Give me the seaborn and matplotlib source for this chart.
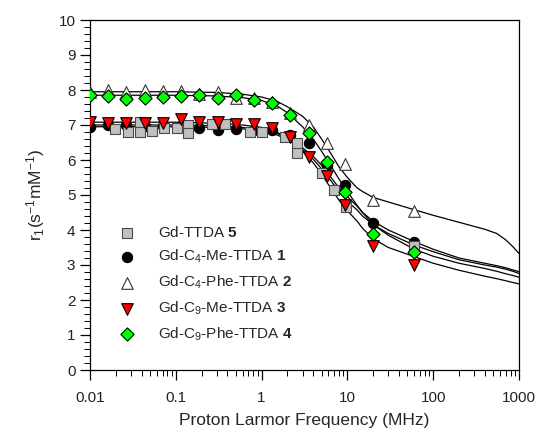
import numpy as np
import pandas as pd
import matplotlib
matplotlib.use("Agg")
import matplotlib.pyplot as plt
import seaborn as sns
from matplotlib.ticker import MultipleLocator, LogLocator, NullFormatter, FixedLocator, FixedFormatter

# ---------------- data ----------------
freq_main = [0.01, 0.0163, 0.0266, 0.0434, 0.0707, 0.115, 0.188, 0.307, 0.5, 0.815,
             1.33, 2.17, 3.54, 5.77, 9.4, 20, 60]
r_c4me = [6.95, 7.00, 7.00, 6.98, 6.98, 6.97, 6.92, 6.86, 6.90, 6.86,
          6.86, 6.72, 6.48, 5.85, 5.29, 4.19, 3.67]
r_c4phe = [7.95, 8.00, 7.94, 8.00, 7.97, 7.98, 7.89, 7.93, 7.77, 7.77,
           7.65, 7.35, 7.00, 6.50, 5.89, 4.86, 4.55]
r_c9me = [7.09, 7.05, 7.07, 7.07, 7.07, 7.17, 7.10, 7.09, 7.02, 7.02,
          6.92, 6.65, 6.10, 5.54, 4.71, 3.54, 3.00]
r_c9phe = [7.86, 7.84, 7.74, 7.76, 7.79, 7.84, 7.86, 7.77, 7.86, 7.71,
           7.62, 7.28, 6.77, 5.93, 5.08, 3.90, 3.36]

freq_ttda = [0.0195, 0.028, 0.038, 0.038, 0.0526, 0.072, 0.103, 0.14, 0.14, 0.262,
             0.372, 0.725, 1.0, 1.85, 2.62, 2.62, 5.08, 7.06, 9.7, 60]
r_ttda = [6.88, 6.80, 7.09, 6.79, 6.83, 6.92, 6.92, 7.00, 6.76, 7.02,
          7.03, 6.80, 6.80, 6.67, 6.50, 6.19, 5.62, 5.14, 4.65, 3.55]

# fitted curves
freq_fit = [0.01, 0.03, 0.1, 0.3, 0.6, 1, 1.5, 2, 3, 4, 5, 6, 8, 10, 13, 15, 20, 30,
            60, 100, 200, 400, 550, 700, 850, 1000]
fit_c4phe = [7.95, 7.95, 7.95, 7.93, 7.88, 7.80, 7.68, 7.52, 7.25, 6.95, 6.60, 6.30,
             5.80, 5.50, 5.20, 5.10, 4.93, 4.80, 4.58, 4.42, 4.22, 4.02, 3.90, 3.72, 3.52, 3.33]
fit_c9phe = [7.85, 7.85, 7.85, 7.83, 7.78, 7.70, 7.55, 7.35, 6.95, 6.60, 6.25, 5.95,
             5.45, 5.10, 4.70, 4.50, 4.15, 3.85, 3.45, 3.25, 3.05, 2.90, 2.82, 2.75, 2.70, 2.65]
fit_c4me = [7.00, 7.00, 7.00, 6.98, 6.93, 6.87, 6.77, 6.62, 6.35, 6.10, 5.85, 5.60,
            5.20, 4.95, 4.68, 4.50, 4.25, 4.00, 3.67, 3.45, 3.20, 3.05, 2.98, 2.92, 2.86, 2.81]
fit_ttda = [6.95, 6.95, 6.95, 6.93, 6.89, 6.83, 6.72, 6.58, 6.30, 6.02, 5.75, 5.50,
            5.10, 4.82, 4.57, 4.40, 4.15, 3.90, 3.57, 3.38, 3.15, 3.00, 2.94, 2.88, 2.82, 2.76]
fit_c9me = [7.08, 7.08, 7.08, 7.05, 7.00, 6.93, 6.80, 6.62, 6.25, 5.92, 5.60, 5.30,
            4.85, 4.55, 4.25, 4.05, 3.75, 3.50, 3.24, 3.05, 2.85, 2.68, 2.61, 2.55, 2.50, 2.46]

labels = {
    "ttda": r"Gd-TTDA $\mathbf{5}$",
    "c4me": r"Gd-C$_4$-Me-TTDA $\mathbf{1}$",
    "c4phe": r"Gd-C$_4$-Phe-TTDA $\mathbf{2}$",
    "c9me": r"Gd-C$_9$-Me-TTDA $\mathbf{3}$",
    "c9phe": r"Gd-C$_9$-Phe-TTDA $\mathbf{4}$",
}

xticks = [0.01, 0.1, 1, 10, 100, 1000]
xticklabels = ["0.01", "0.1", "1", "10", "100", "1000"]

# ---------------- style ----------------
sns.set_style("ticks")
plt.rcParams["font.family"] = ["Liberation Sans", "DejaVu Sans"]
plt.rcParams["mathtext.fontset"] = "custom"
plt.rcParams["mathtext.rm"] = "Liberation Sans"
plt.rcParams["mathtext.it"] = "Liberation Sans:italic"
plt.rcParams["mathtext.bf"] = "Liberation Sans:bold"

fig = plt.figure(figsize=(5.39, 4.41), dpi=100)
ax = fig.add_axes([90 / 539, 1 - 370 / 441, 429 / 539, 350 / 441])

# curves
fit_df = pd.concat([
    pd.DataFrame({"f": freq_fit, "r": v, "s": k})
    for k, v in [("c4phe", fit_c4phe), ("c9phe", fit_c9phe), ("c4me", fit_c4me),
                 ("ttda", fit_ttda), ("c9me", fit_c9me)]
])
sns.lineplot(data=fit_df, x="f", y="r", units="s", estimator=None, color="black",
             linewidth=0.9, legend=False, sort=False, ax=ax, zorder=2)

# points
specs = [
    ("c4me", freq_main, r_c4me, "o", 55, "black", "black", 3),
    ("ttda", freq_ttda, r_ttda, "s", 55, "#c0c0c0", "#4a4a4a", 4),
    ("c4phe", freq_main, r_c4phe, "^", 70, "white", "#333333", 5),
    ("c9me", freq_main, r_c9me, "v", 70, "#ff0000", "black", 6),
    ("c9phe", freq_main, r_c9phe, "D", 45, "#00ff00", "black", 7),
]
for key, fx, fy, mk, sz, fc, ec, z in specs:
    sns.scatterplot(x=fx, y=fy, marker=mk, s=sz, color=fc, edgecolor=ec,
                    linewidth=0.8, ax=ax, zorder=z, label=labels[key])

h, l = ax.get_legend_handles_labels()
hm = dict(zip(l, h))
order = ["ttda", "c4me", "c4phe", "c9me", "c9phe"]
ax.legend([hm[labels[k]] for k in order], [labels[k] for k in order],
          loc="lower left", bbox_to_anchor=(0.055, 0.06), frameon=False,
          fontsize=11, labelspacing=0.55, handletextpad=1.5, handlelength=1.0,
          borderaxespad=0)

ax.set_xscale("log")
ax.set_xlim(0.01, 1000)
ax.set_ylim(0, 10)
ax.xaxis.set_major_locator(FixedLocator(xticks))
ax.xaxis.set_major_formatter(FixedFormatter(xticklabels))
ax.xaxis.set_minor_locator(LogLocator(base=10, subs=np.arange(2, 10)))
ax.xaxis.set_minor_formatter(NullFormatter())
ax.yaxis.set_major_locator(MultipleLocator(1))
ax.yaxis.set_minor_locator(MultipleLocator(0.2))

for s in ax.spines.values():
    s.set_visible(True)
    s.set_color("black")
    s.set_linewidth(0.9)

ax.tick_params(axis="both", which="major", direction="out", length=7, width=0.9,
               labelsize=11, color="black", labelcolor="#222222",
               bottom=True, left=True, top=False, right=False)
ax.tick_params(axis="both", which="minor", direction="out", length=4, width=0.7,
               color="black", bottom=True, left=True, top=False, right=False)
ax.tick_params(axis="x", which="major", pad=8)

ax.set_xlabel("Proton Larmor Frequency (MHz)", fontsize=12.5, labelpad=6)
ax.set_ylabel(r"r$_1$(s$^{-1}$mM$^{-1}$)", fontsize=12.5, labelpad=8)

fig.savefig("out.png", dpi=100)
